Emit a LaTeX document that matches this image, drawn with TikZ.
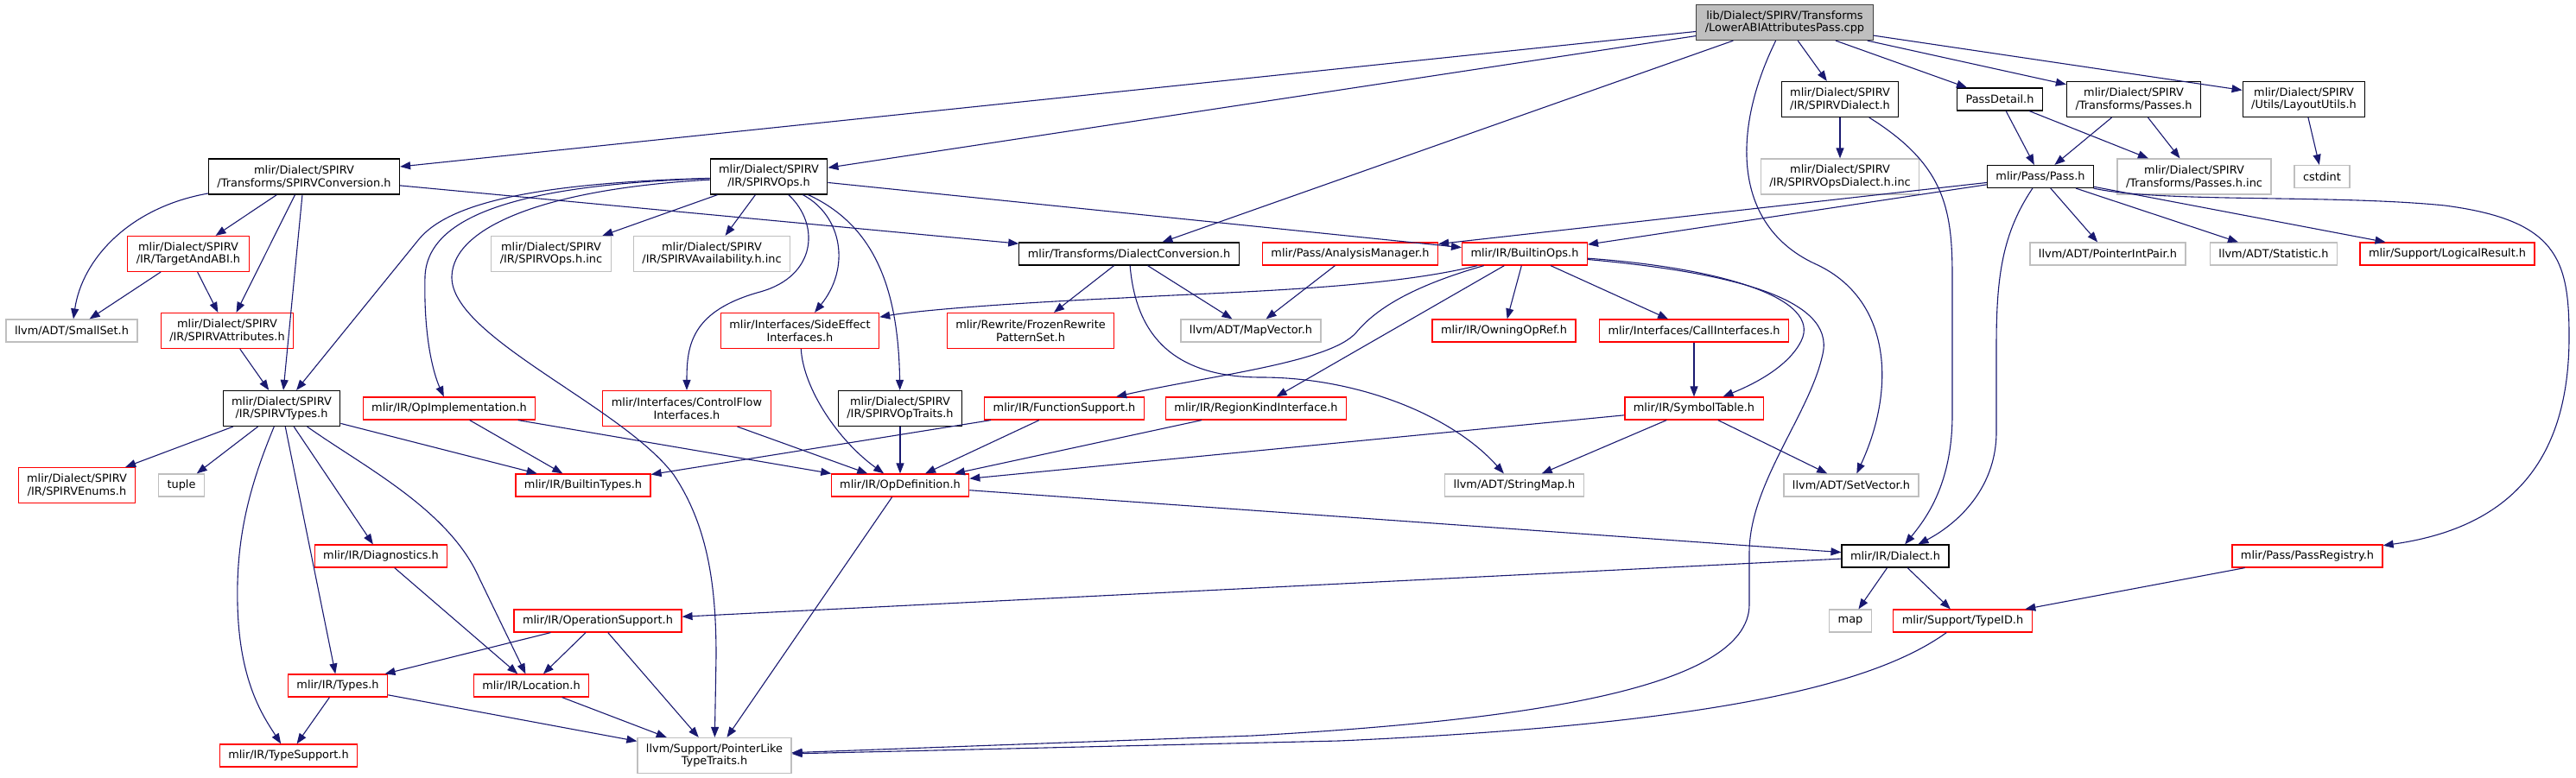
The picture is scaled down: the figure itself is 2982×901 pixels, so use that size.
\documentclass[tikz,border=0pt]{standalone}
\usepackage{fontspec}
\setmainfont{DejaVu Sans}
\usetikzlibrary{arrows.meta}
\definecolor{edgeblue}{HTML}{191970}
\definecolor{extgray}{HTML}{BFBFBF}

\begin{document}
\begin{tikzpicture}[x=1pt,y=-1pt,
    every node/.style={draw=black, line width=1.2pt, inner xsep=10pt, inner ysep=2pt,
      minimum height=26pt, align=center, font=\fontsize{12.9pt}{14.7pt}\selectfont},
    dbl/.style={minimum height=41pt},
    trunc/.style={draw=red},
    ext/.style={draw=extgray},
    root/.style={fill=extgray, draw=black!75},
    edge/.style={draw=edgeblue, line width=1.1pt, -{Triangle[length=12pt,width=9pt]}}]
    \useasboundingbox (0,0) rectangle (2982,901);

    \node (root)[root,dbl]      at (2066,26)    {lib/Dialect/SPIRV/Transforms\\/LowerABIAttributesPass.cpp};

    \node (spvdialect)[dbl]     at (2130,115)   {mlir/Dialect/SPIRV\\/IR/SPIRVDialect.h};
    \node (passdetail)          at (2315,115)   {PassDetail.h};
    \node (passes)[dbl]         at (2470,115)   {mlir/Dialect/SPIRV\\/Transforms/Passes.h};
    \node (layout)[dbl]         at (2667,115)   {mlir/Dialect/SPIRV\\/Utils/LayoutUtils.h};

    \node (spvconv)[dbl]        at (352,204.5)  {mlir/Dialect/SPIRV\\/Transforms/SPIRVConversion.h};
    \node (spvops)[dbl]         at (890,204.5)  {mlir/Dialect/SPIRV\\/IR/SPIRVOps.h};
    \node (opsdialinc)[ext,dbl] at (2130,204.5) {mlir/Dialect/SPIRV\\/IR/SPIRVOpsDialect.h.inc};
    \node (pass)                at (2362,204.5) {mlir/Pass/Pass.h};
    \node (passesinc)[ext,dbl]  at (2540,204.5) {mlir/Dialect/SPIRV\\/Transforms/Passes.h.inc};
    \node (cstdint)[ext]        at (2688,204.5) {cstdint};

    \node (targetabi)[trunc,dbl] at (218,294)   {mlir/Dialect/SPIRV\\/IR/TargetAndABI.h};
    \node (opsinc)[ext,dbl]     at (638,294)    {mlir/Dialect/SPIRV\\/IR/SPIRVOps.h.inc};
    \node (availinc)[ext,dbl]   at (824,294)    {mlir/Dialect/SPIRV\\/IR/SPIRVAvailability.h.inc};
    \node (dialconv)            at (1307,294)   {mlir/Transforms/DialectConversion.h};
    \node (analysis)[trunc]     at (1563,294)   {mlir/Pass/AnalysisManager.h};
    \node (builtinops)[trunc]   at (1765,294)   {mlir/IR/BuiltinOps.h};
    \node (ptrintpair)[ext]     at (2440,294)   {llvm/ADT/PointerIntPair.h};
    \node (statistic)[ext]      at (2632,294)   {llvm/ADT/Statistic.h};
    \node (logicalres)[trunc]   at (2833,294)   {mlir/Support/LogicalResult.h};

    \node (smallset)[ext]       at (83,383)     {llvm/ADT/SmallSet.h};
    \node (spvattrs)[trunc,dbl] at (263,383)    {mlir/Dialect/SPIRV\\/IR/SPIRVAttributes.h};
    \node (sideeffect)[trunc,dbl] at (926,383)  {mlir/Interfaces/SideEffect\\Interfaces.h};
    \node (frozen)[trunc,dbl]   at (1193,383)   {mlir/Rewrite/FrozenRewrite\\PatternSet.h};
    \node (mapvector)[ext]      at (1448,383)   {llvm/ADT/MapVector.h};
    \node (owningop)[trunc]     at (1741,383)   {mlir/IR/OwningOpRef.h};
    \node (callintf)[trunc]     at (1961,383)   {mlir/Interfaces/CallInterfaces.h};

    \node (spvtypes)[dbl]       at (326,473)    {mlir/Dialect/SPIRV\\/IR/SPIRVTypes.h};
    \node (opimpl)[trunc]       at (520,473)    {mlir/IR/OpImplementation.h};
    \node (ctrlflow)[trunc,dbl] at (795,473)    {mlir/Interfaces/ControlFlow\\Interfaces.h};
    \node (optraits)[dbl]       at (1042,473)   {mlir/Dialect/SPIRV\\/IR/SPIRVOpTraits.h};
    \node (funcsupp)[trunc]     at (1232,473)   {mlir/IR/FunctionSupport.h};
    \node (regionkind)[trunc]   at (1454,473)   {mlir/IR/RegionKindInterface.h};
    \node (symtable)[trunc]     at (1961,473)   {mlir/IR/SymbolTable.h};

    \node (spvenums)[trunc,dbl] at (89,562)     {mlir/Dialect/SPIRV\\/IR/SPIRVEnums.h};
    \node (tuple)[ext]          at (210,562)    {tuple};
    \node (builtintypes)[trunc] at (675,562)    {mlir/IR/BuiltinTypes.h};
    \node (opdef)[trunc]        at (1042,562)   {mlir/IR/OpDefinition.h};
    \node (stringmap)[ext]      at (1753,562)   {llvm/ADT/StringMap.h};
    \node (setvector)[ext]      at (2143,562)   {llvm/ADT/SetVector.h};

    \node (diagnostics)[trunc]  at (441,644)    {mlir/IR/Diagnostics.h};
    \node (dialect)             at (2194,644)   {mlir/IR/Dialect.h};
    \node (passreg)[trunc]      at (2671,644)   {mlir/Pass/PassRegistry.h};

    \node (opsupport)[trunc]    at (692,719)    {mlir/IR/OperationSupport.h};
    \node (map)[ext]            at (2142,719)   {map};
    \node (typeid)[trunc]       at (2272,719)   {mlir/Support/TypeID.h};

    \node (types)[trunc]        at (391,794)    {mlir/IR/Types.h};
    \node (location)[trunc]     at (615,794)    {mlir/IR/Location.h};

    \node (typesupport)[trunc]  at (334,875)    {mlir/IR/TypeSupport.h};
    \node (ptrlike)[ext,dbl]    at (827,875)    {llvm/Support/PointerLike\\TypeTraits.h};

    \foreach \from/\to in
      {root/spvconv, root/spvops, root/dialconv, root/spvdialect,
       root/passdetail, root/passes, root/layout,
       spvdialect/opsdialinc, passdetail/pass, passdetail/passesinc,
       passes/pass, passes/passesinc, layout/cstdint,
       spvconv/targetabi, spvconv/spvattrs, spvconv/spvtypes, spvconv/dialconv,
       spvops/opsinc, spvops/availinc, spvops/builtinops,
       targetabi/smallset, targetabi/spvattrs, spvattrs/spvtypes,
       dialconv/frozen, dialconv/mapvector, analysis/mapvector,
       pass/analysis, pass/builtinops, pass/ptrintpair, pass/statistic, pass/logicalres,
       builtinops/regionkind, builtinops/owningop, builtinops/callintf, callintf/symtable,
       spvtypes/spvenums, spvtypes/tuple, spvtypes/builtintypes,
       spvtypes/diagnostics, spvtypes/types,
       opimpl/builtintypes, opimpl/opdef, ctrlflow/opdef, optraits/opdef,
       funcsupp/builtintypes, funcsupp/opdef, regionkind/opdef,
       symtable/opdef, symtable/stringmap, symtable/setvector,
       opdef/ptrlike, opdef/dialect, dialect/opsupport, dialect/map, dialect/typeid,
       passreg/typeid, diagnostics/location,
       opsupport/types, opsupport/location, opsupport/ptrlike,
       types/typesupport, types/ptrlike, location/ptrlike}
    \draw[edge] (\from) -- (\to);

    % curved ones
    \draw[edge] (root) .. controls (2005,150) and (2005,260) .. (2100,305)
                .. controls (2190,345) and (2195,450) .. (setvector);
    \draw[edge] (spvdialect) .. controls (2250,190) and (2260,240) .. (2260,320)
                -- (2260,480) .. controls (2260,560) and (2230,600) .. (dialect);
    \draw[edge] (pass) .. controls (2318,270) and (2311,320) .. (2311,400)
                -- (2311,500) .. controls (2311,570) and (2260,610) .. (dialect);
    \draw[edge] (pass) .. controls (2500,235) and (2700,225) .. (2830,238)
                .. controls (2960,255) and (2974,300) .. (2974,390)
                .. controls (2974,540) and (2900,612) .. (passreg);
    \draw[edge] (spvops) .. controls (620,212) and (520,235) .. (485,277) -- (spvtypes);
    \draw[edge] (spvops) .. controls (600,214) and (495,250) .. (492,320)
                .. controls (490,400) and (505,440) .. (opimpl);
    \draw[edge] (spvops) .. controls (640,218) and (525,260) .. (523,320)
                .. controls (521,390) and (720,470) .. (780,550)
                .. controls (820,610) and (829,680) .. (829,760) -- (ptrlike);
    \draw[edge] (spvops) .. controls (950,260) and (945,320) .. (880,338)
                .. controls (800,360) and (795,400) .. (ctrlflow);
    \draw[edge] (spvops) .. controls (975,250) and (985,310) .. (sideeffect);
    \draw[edge] (spvops) .. controls (1010,260) and (1040,330) .. (optraits);
    \draw[edge] (spvconv) .. controls (150,240) and (95,300) .. (smallset);
    \draw[edge] (dialconv) .. controls (1315,390) and (1360,437) .. (1460,437)
                .. controls (1570,437) and (1680,480) .. (stringmap);
    \draw[edge] (builtinops) .. controls (1600,335) and (1420,338) .. (1300,345)
                .. controls (1150,352) and (1060,360) .. (sideeffect);
    \draw[edge] (builtinops) .. controls (1640,330) and (1595,355) .. (1570,385)
                .. controls (1540,420) and (1400,435) .. (funcsupp);
    \draw[edge] (builtinops) .. controls (1990,310) and (2110,345) .. (2085,395)
                .. controls (2070,425) and (2030,445) .. (symtable);
    \draw[edge] (builtinops) .. controls (2000,315) and (2125,345) .. (2110,410)
                .. controls (2095,480) and (2025,560) .. (2025,640) -- (2025,700)
                .. controls (2025,800) and (1750,835) .. (1450,852) -- (ptrlike);
    \draw[edge] (typeid) .. controls (2160,800) and (1950,840) .. (1550,858) -- (ptrlike);
    \draw[edge] (spvtypes) .. controls (290,560) and (273,620) .. (275,700)
                .. controls (277,790) and (305,830) .. (typesupport);
    \draw[edge] (spvtypes) .. controls (420,540) and (520,590) .. (555,670) -- (location);
    \draw[edge] (sideeffect) .. controls (930,450) and (970,510) .. (opdef);
\end{tikzpicture}
\end{document}
